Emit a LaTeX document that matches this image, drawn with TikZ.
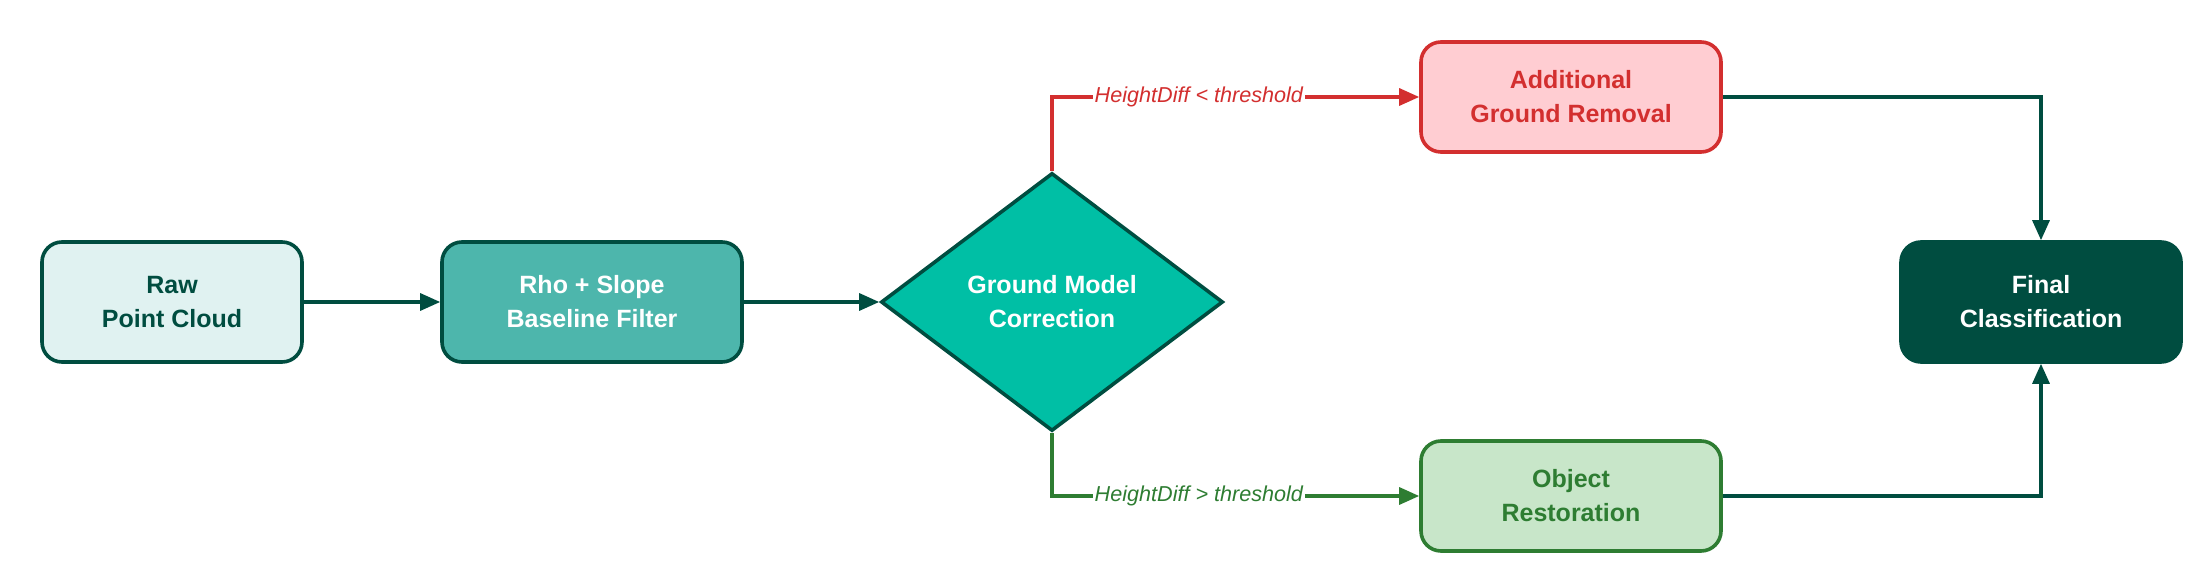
\documentclass[tikz,border=0pt]{standalone}
\usepackage{fontspec}
\setmainfont{Liberation Sans}
\usepackage{tikz}
\usetikzlibrary{positioning}
\usetikzlibrary{arrows.meta}
\usetikzlibrary{shapes.geometric}
\definecolor{deepgreen}{HTML}{004D40}
\definecolor{palemint}{HTML}{E0F2F1}
\definecolor{tealbox}{HTML}{4DB6AC}
\definecolor{aqua}{HTML}{00BFA5}
\definecolor{alertred}{HTML}{D32F2F}
\definecolor{palered}{HTML}{FFCDD2}
\definecolor{leafgreen}{HTML}{2E7D32}
\definecolor{palegreen}{HTML}{C8E6C9}
\tikzset{
  box/.style={rectangle,rounded corners=10pt,line width=1.8pt,align=center,
    font=\fontsize{12.5pt}{17pt}\selectfont\bfseries,minimum width=150pt,minimum height=60pt},
  flow/.style={line width=1.6pt,deepgreen,-{Triangle[length=10pt,width=8.5pt]}},
  cond/.style={font=\fontsize{10.8pt}{13pt}\selectfont\itshape,fill=white,inner sep=1pt},
}
\begin{document}
\begin{tikzpicture}[x=0.5pt,y=-0.5pt]
            \useasboundingbox (0,0) rectangle (2206,576);
            \node[box,draw=deepgreen,fill=palemint,text=deepgreen,minimum width=130pt] (raw) at (172,302) {Raw\\Point Cloud};
            \node[box,draw=deepgreen,fill=tealbox,text=white] (rho) at (592,302) {Rho + Slope\\Baseline Filter};
            \node[diamond,draw=deepgreen,fill=aqua,text=white,line width=1.8pt,align=center,inner sep=0pt,
                  minimum width=171pt,minimum height=129pt,
                  font=\fontsize{12.5pt}{17pt}\selectfont\bfseries] (gmc) at (1052,302) {Ground Model\\Correction};
            \node[box,draw=alertred,fill=palered,text=alertred,minimum height=55pt] (add) at (1571,97) {Additional\\Ground Removal};
            \node[box,draw=leafgreen,fill=palegreen,text=leafgreen,minimum height=55pt] (obj) at (1571,496) {Object\\Restoration};
            \node[box,draw=deepgreen,fill=deepgreen,text=white,minimum width=140pt] (final) at (2041,302) {Final\\Classification};
            % main line
            \draw[flow] (raw) -- (rho);
            \draw[flow] (rho) -- (gmc);
            % branches
            \draw[flow,alertred] (gmc.north) |- node[cond,pos=0.7]{HeightDiff < threshold} (add.west);
            \draw[flow,leafgreen] (gmc.south) |- node[cond,pos=0.7]{HeightDiff > threshold} (obj.west);
            \draw[flow] (add.east) -| (final.north);
            \draw[flow] (obj.east) -| (final.south);
        \end{tikzpicture}
\end{document}
